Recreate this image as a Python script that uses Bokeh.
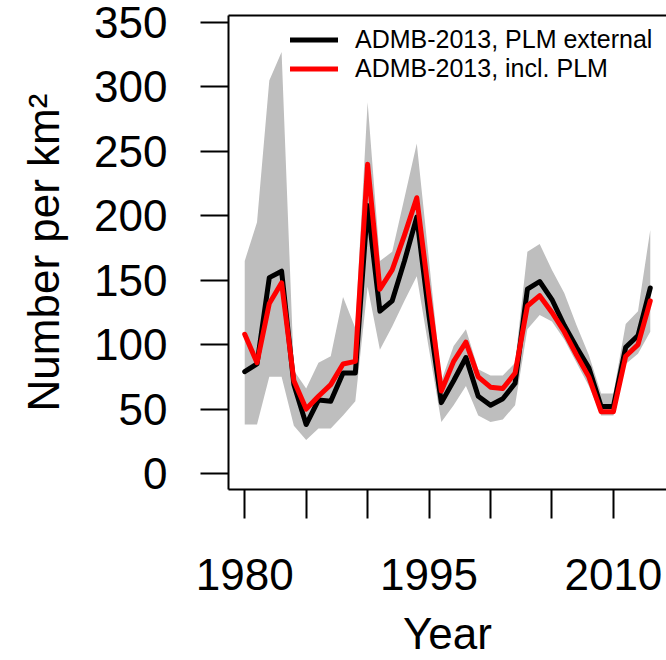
from bokeh.plotting import figure
from bokeh.models import Range1d, FixedTicker, LinearAxis, Legend, LegendItem
from bokeh.embed import file_html
from bokeh.resources import INLINE

# ---- data ----
years = list(range(1980, 2014))
plm_external = [79, 85, 152, 157, 69, 38, 57, 56, 78, 78,
                208, 126, 134, 165, 199, 122, 55, 72, 90, 60,
                53, 58, 70, 143, 149, 135, 115, 98, 82, 52,
                52, 98, 107, 144]
incl_plm = [108, 86, 132, 148, 72, 50, 60, 69, 85, 87,
            240, 143, 158, 185, 214, 137, 64, 87, 102, 75,
            67, 66, 78, 130, 138, 125, 110, 92, 75, 48,
            48, 91, 100, 134]
ci_upper = [165, 195, 305, 327, 80, 66, 86, 91, 137, 113,
            288, 165, 172, 214, 256, 165, 72, 99, 112, 81,
            76, 76, 86, 172, 178, 158, 140, 115, 92, 62,
            62, 116, 126, 189]
ci_lower = [38, 38, 75, 75, 37, 26, 35, 35, 45, 56,
            145, 96, 114, 134, 153, 96, 40, 53, 68, 45,
            40, 42, 53, 112, 123, 118, 104, 86, 68, 45,
            45, 85, 93, 110]
y_ticks = [0, 50, 100, 150, 200, 250, 300, 350]
x_ticks = [1980, 1985, 1990, 1995, 2000, 2005, 2010]
x_tick_labels = ["1980", "", "", "1995", "", "", "2010"]
series_labels = ["ADMB-2013, PLM external", "ADMB-2013, incl. PLM"]

FONT = "Liberation Sans"

p = figure(width=666, height=660, output_backend="svg", toolbar_location=None,
           x_range=Range1d(1978.68, 2014.32), y_range=Range1d(-12.4, 355.4),
           min_border_left=228, min_border_right=0, min_border_top=15,
           min_border_bottom=169, outline_line_color=None,
           background_fill_color="white", border_fill_color="white")
p.grid.visible = False

p.varea(x=years, y1=ci_lower, y2=ci_upper, fill_color="#bebebe", fill_alpha=1.0)
r_ext = p.line(years, plm_external, line_color="black", line_width=5,
               line_join="round", line_cap="round")
r_inc = p.line(years, incl_plm, line_color="#ff0000", line_width=5,
               line_join="round", line_cap="round")

def style_axis(ax, tick_out):
    ax.major_tick_out = tick_out
    ax.major_tick_in = 0
    ax.minor_tick_out = 0
    ax.minor_tick_in = 0
    ax.major_tick_line_width = 2
    ax.major_tick_line_color = "black"
    ax.axis_line_width = 2
    ax.axis_line_color = "black"
    ax.major_label_text_font = FONT
    ax.major_label_text_font_size = "44px"
    ax.major_label_text_color = "black"
    ax.axis_label_text_font = FONT
    ax.axis_label_text_font_size = "44px"
    ax.axis_label_text_font_style = "normal"
    ax.axis_label_text_color = "black"

ya = p.yaxis[0]
ya.ticker = FixedTicker(ticks=y_ticks)
style_axis(ya, 28)
ya.major_label_standoff = 33
ya.axis_label = "Number per km\u00b2"
ya.axis_label_standoff = 23

xa = p.xaxis[0]
xa.ticker = FixedTicker(ticks=x_ticks)
xa.major_label_overrides = {t: lab for t, lab in zip(x_ticks, x_tick_labels)}
style_axis(xa, 29)
xa.major_label_standoff = 40
xa.axis_label = "Year"
xa.axis_label_standoff = 16

top = LinearAxis(ticker=FixedTicker(ticks=[]), major_tick_out=0, major_tick_in=0,
                 minor_tick_out=0, minor_tick_in=0, axis_line_width=2,
                 axis_line_color="black", major_label_standoff=0)
p.add_layout(top, "above")

legend = Legend(items=[LegendItem(label=series_labels[0], renderers=[r_ext]),
                       LegendItem(label=series_labels[1], renderers=[r_inc])],
                location=(62, 406), orientation="vertical",
                border_line_color=None, background_fill_alpha=0,
                padding=0, margin=0, spacing=0,
                glyph_width=48, glyph_height=29, label_height=29,
                label_standoff=17, label_text_font=FONT,
                label_text_font_size="25px", label_text_color="black")
p.add_layout(legend, "center")

open("out.html", "w").write(file_html(p, INLINE))
